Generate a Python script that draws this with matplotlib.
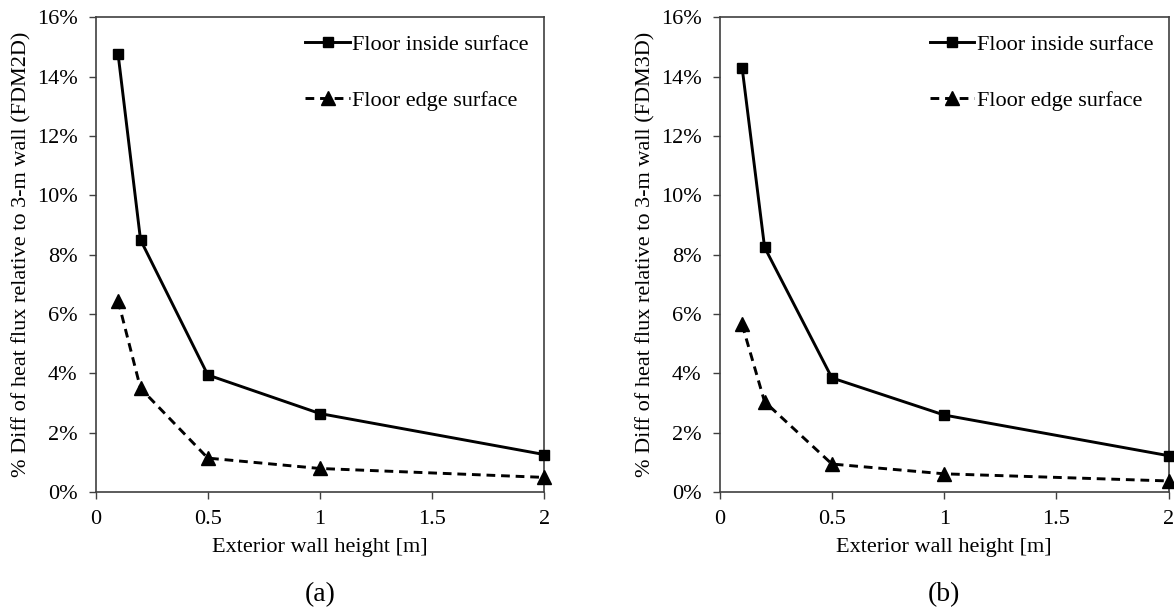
import numpy as np
import matplotlib.pyplot as plt
from matplotlib.ticker import FuncFormatter

plt.rcParams['font.family'] = ['Liberation Serif', 'DejaVu Serif']

# wall heights [m]
heights = [0.1, 0.2, 0.5, 1.0, 2.0]

# % difference relative to 3-m wall, 2D model
inside_2d = [14.75, 8.5, 3.95, 2.65, 1.27]
edge_2d = [6.45, 3.5, 1.15, 0.8, 0.5]

# % difference relative to 3-m wall, 3D model
inside_3d = [14.3, 8.25, 3.85, 2.6, 1.23]
edge_3d = [5.65, 3.05, 0.95, 0.62, 0.38]

xticks = [0, 0.5, 1, 1.5, 2]
xticklabels = ['0', '0.5', '1', '1.5', '2']

fig = plt.figure(figsize=(11.74, 6.13), dpi=100)
ax1 = fig.add_axes([0.0815, 0.197, 0.382, 0.775])
ax2 = fig.add_axes([0.613, 0.197, 0.3825, 0.775])

def setup(ax, inside, edge, model, tag):
    ax.plot(heights, inside, '-', color='black', lw=2.1, marker='s', ms=6.5,
            label='Floor inside surface', clip_on=False, zorder=3)
    ax.plot(heights, edge, '--', color='black', lw=2.1, marker='^', ms=9.5,
            dashes=(3, 2), label='Floor edge surface', clip_on=False, zorder=3)
    ax.set_xlim(0, 2)
    ax.set_ylim(0, 16)
    ax.set_xticks(xticks)
    ax.set_xticklabels(xticklabels)
    ax.set_yticks(np.arange(0, 17, 2))
    ax.yaxis.set_major_formatter(FuncFormatter(lambda v, p: '%d%%' % v))
    ax.tick_params(labelsize=16, direction='out', length=5, width=1,
                   color='#404040', pad=8)
    for s in ax.spines.values():
        s.set_color('#404040')
        s.set_linewidth(1.2)
    ax.set_xlabel('Exterior wall height [m]', fontsize=16, labelpad=6)
    ax.set_ylabel('% Diff of heat flux relative to 3-m wall (' + model + ')',
                  fontsize=16, labelpad=4)
    ax.legend(loc='upper right', bbox_to_anchor=(1.01, 1.006), frameon=False,
              fontsize=16, handlelength=2.0, handletextpad=0.1,
              labelspacing=1.6)
    ax.text(0.5, -0.215, tag, transform=ax.transAxes, ha='center',
            va='center', fontsize=20)

setup(ax1, inside_2d, edge_2d, 'FDM2D', '(a)')
setup(ax2, inside_3d, edge_3d, 'FDM3D', '(b)')

fig.savefig('out.png', dpi=100)
